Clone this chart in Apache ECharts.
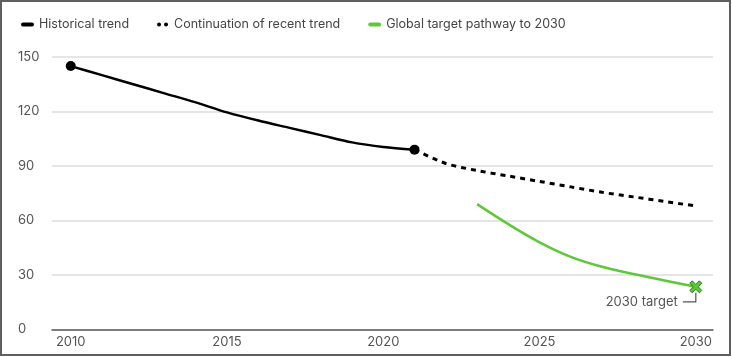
<!DOCTYPE html>
<html>
<head>
<meta charset="utf-8">
<script src="https://cdn.jsdelivr.net/npm/echarts@6/dist/echarts.min.js"></script>
<style>
  html, body { margin: 0; padding: 0; background: #fff; }
  #wrap { position: relative; width: 732px; height: 357px; }
  #chart { position: absolute; left: 0; top: 0; width: 732px; height: 357px; }
  #frame { position: absolute; left: 0; top: 0; width: 731px; height: 356px; box-sizing: border-box; border: 2px solid #5f5f5f; pointer-events: none; }
</style>
</head>
<body>
<div id="wrap"><div id="chart"></div><div id="frame"></div></div>
<script>
// ---- data ----
const seriesNames = ['Historical trend', 'Continuation of recent trend', 'Global target pathway to 2030'];
const xTickLabels = [2010, 2015, 2020, 2025, 2030];
const yTicks = [0, 30, 60, 90, 120, 150];

const histYears = [2010, 2011, 2012, 2013, 2014, 2015, 2016, 2017, 2018, 2019, 2020, 2021];
const histValues = [145, 140, 135, 130, 125, 119.5, 115, 111, 107, 103, 100.5, 99];

const contYears = [2021, 2022, 2023, 2024, 2025, 2026, 2027, 2028, 2029, 2030];
const contValues = [99, 91.4, 87.5, 84.5, 81.5, 78.5, 75.5, 73, 70.5, 68];

const targetYears = [2023, 2024, 2025, 2026, 2027, 2028, 2029, 2030];
const targetValues = [69, 58, 48, 40, 34.5, 30.5, 27, 23.5];

const targetLabel = '2030 target';

// ---- build ----
const FONT = 'Inter, Roboto, sans-serif';
const histData = histYears.map((y, i) => ({
  value: [y, histValues[i]],
  symbol: (i === 0 || i === histYears.length - 1) ? 'circle' : 'none'
}));
const contData = contYears.map((y, i) => [y, contValues[i]]);
const targetData = targetYears.map((y, i) => ({
  value: [y, targetValues[i]],
  symbol: i === targetYears.length - 1 ? 'path://M2,0 L5,3 L8,0 L10,2 L7,5 L10,8 L8,10 L5,7 L2,10 L0,8 L3,5 L0,2 Z' : 'none'
}));

const LINE_ICON = 'path://M2,0 L11,0 A2,2 0 0 1 11,4 L2,4 A2,2 0 0 1 2,0 Z';
const chart = echarts.init(document.getElementById('chart'));
chart.setOption({
  animation: false,
  textStyle: { fontFamily: FONT },
  legend: {
    left: 16, top: 13,
    itemWidth: 13, itemHeight: 4, itemGap: 28,
    textStyle: { fontSize: 12.5, color: '#444', fontFamily: FONT },
    data: [
      { name: seriesNames[0], icon: LINE_ICON, itemStyle: { color: '#000', borderWidth: 0 } },
      { name: seriesNames[1], icon: 'path://M1,2 A2,2 0 1 0 5,2 A2,2 0 1 0 1,2 Z M8,2 A2,2 0 1 0 12,2 A2,2 0 1 0 8,2 Z', itemStyle: { color: '#000', borderWidth: 0 } },
      { name: seriesNames[2], icon: LINE_ICON, itemStyle: { color: '#5cc83a', borderWidth: 0 } }
    ]
  },
  grid: { left: 52, right: 19, top: 57, bottom: 27.5, containLabel: false },
  xAxis: {
    type: 'value',
    min: 2009.4, max: 2030.55,
    axisLine: { show: true, lineStyle: { color: '#5a5a5a', width: 1.5 } },
    axisTick: { show: false },
    splitLine: { show: false },
    axisLabel: {
      customValues: xTickLabels,
      formatter: v => String(v),
      fontSize: 13, color: '#555', margin: 6, fontFamily: FONT
    }
  },
  yAxis: {
    type: 'value',
    min: 0, max: 150, interval: 30,
    axisLine: { show: false },
    axisTick: { show: false },
    splitLine: { show: true, lineStyle: { color: '#dcdcdc', width: 1.5 } },
    axisLabel: {
      customValues: yTicks,
      fontSize: 13, color: '#555', margin: 34, align: 'left', fontFamily: FONT
    }
  },
  series: [
    {
      name: seriesNames[0], type: 'line', data: histData, smooth: 0.3,
      symbolSize: 10, showSymbol: true, z: 3,
      lineStyle: { color: '#000', width: 2.5 },
      itemStyle: { color: '#000' }
    },
    {
      name: seriesNames[1], type: 'line', data: contData, smooth: 0.3,
      symbol: 'none', z: 2,
      lineStyle: { color: '#000', width: 3, type: [5, 5] },
      itemStyle: { color: '#000' }
    },
    {
      name: seriesNames[2], type: 'line', data: targetData, smooth: 0.35,
      symbolSize: 12, showSymbol: true, z: 4,
      lineStyle: { color: '#5cc83a', width: 2.5 },
      itemStyle: { color: '#5cc83a', borderColor: '#2f7f1f', borderWidth: 1 }
    }
  ]
});

const p = chart.convertToPixel({ xAxisIndex: 0, yAxisIndex: 0 }, [targetYears[targetYears.length - 1], targetValues[targetValues.length - 1]]);
chart.setOption({
  graphic: [
    {
      type: 'polyline', z: 10,
      shape: { points: [[p[0], p[1] + 6], [p[0], p[1] + 15], [p[0] - 13, p[1] + 15]] },
      style: { stroke: '#555', lineWidth: 1.2, fill: null }
    },
    {
      type: 'text', z: 10,
      x: p[0] - 18, y: p[1] + 15,
      style: { text: targetLabel, fill: '#555', fontSize: 13, fontFamily: FONT, align: 'right', verticalAlign: 'middle' }
    }
  ]
});
</script>
</body>
</html>
